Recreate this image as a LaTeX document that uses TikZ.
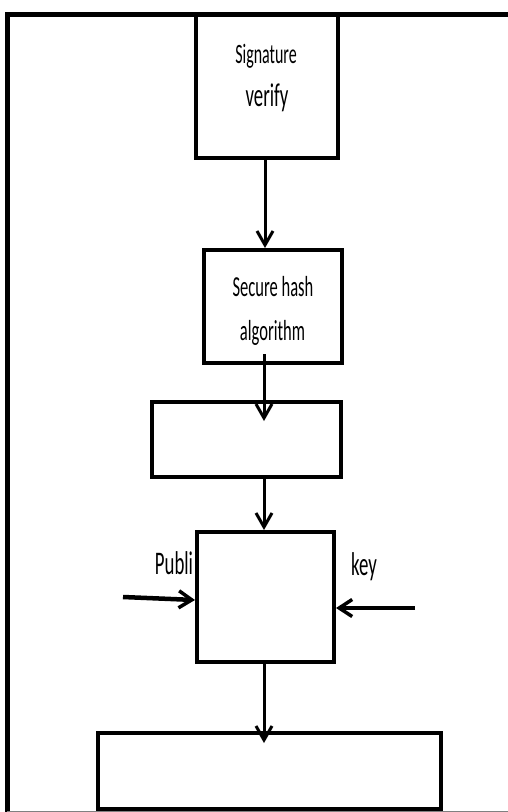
\documentclass[tikz,border=0pt]{standalone}
\usepackage{fontspec}
\setmainfont{Carlito}
\usepackage{graphicx}
\usetikzlibrary{arrows.meta}
\newcommand{\narrow}[1]{\scalebox{0.57}[1]{#1}}
\tikzset{
  block/.style={draw, line width=4pt, inner sep=0pt},
  flow/.style={line width=3pt, -{Straight Barb[length=14pt,width=16pt,line width=3pt]}},
  side/.style={line width=4.5pt, -{Straight Barb[length=13pt,width=17pt,line width=3.5pt]}},
  lbl/.style={anchor=base, inner sep=0pt},
}
\begin{document}
\begin{tikzpicture}[x=1pt,y=-1pt]
\useasboundingbox (0,0) rectangle (508,812);
% frame
\draw[line width=5pt] (7,812) -- (7,14) -- (510,14);
\draw[gray, line width=1pt] (7,811) -- (508,811);

% boxes
\node[block, minimum width=142pt, minimum height=144pt] (verify) at (267,86) {};
\node[block, minimum width=138pt, minimum height=113pt] (hash) at (273,306.5) {};
\node[block, minimum width=189pt, minimum height=75pt] (digest) at (246.5,439.5) {};
\node[block, minimum width=137pt, minimum height=130pt] (decrypt) at (265.5,597) {};
\node[block, minimum width=343pt, minimum height=76pt] (result) at (269.5,771) {};

% texts
\node[lbl, font=\fontsize{28}{30}\selectfont] (t1) at (266,63) {\narrow{Signature}};
\node[lbl, font=\fontsize{33}{34}\selectfont] (t2) at (267,106) {\narrow{verify}};
\node[lbl, font=\fontsize{29}{30}\selectfont] (t3) at (273,296) {\narrow{Secure hash}};
\node[lbl, font=\fontsize{29}{30}\selectfont] (t4) at (272.5,340) {\narrow{algorithm}};
\node[lbl, font=\fontsize{33}{34}\selectfont] (t5) at (174,574) {\narrow{Publi}};
\node[lbl, font=\fontsize{33}{34}\selectfont] (t6) at (364,575) {\narrow{key}};

% arrows
\draw[flow] (verify.south -| 265,0) -- (hash.north -| 265,0);
\draw[flow] ([yshift=11pt]hash.south -| 264,0) -- ([yshift=-21pt]digest.north -| 264,0);
\draw[flow] (digest.south -| 264,0) -- (decrypt.north -| 264,0);
\draw[flow] (decrypt.south -| 264,0) -- ([yshift=-12pt]result.north -| 264,0);
\coordinate (pin) at (123,597);
\coordinate (kin) at (415,608);
\draw[side] (pin) -- (decrypt.west |- 0,600);
\draw[side] (kin) -- (decrypt.east |- kin);
\end{tikzpicture}
\end{document}
